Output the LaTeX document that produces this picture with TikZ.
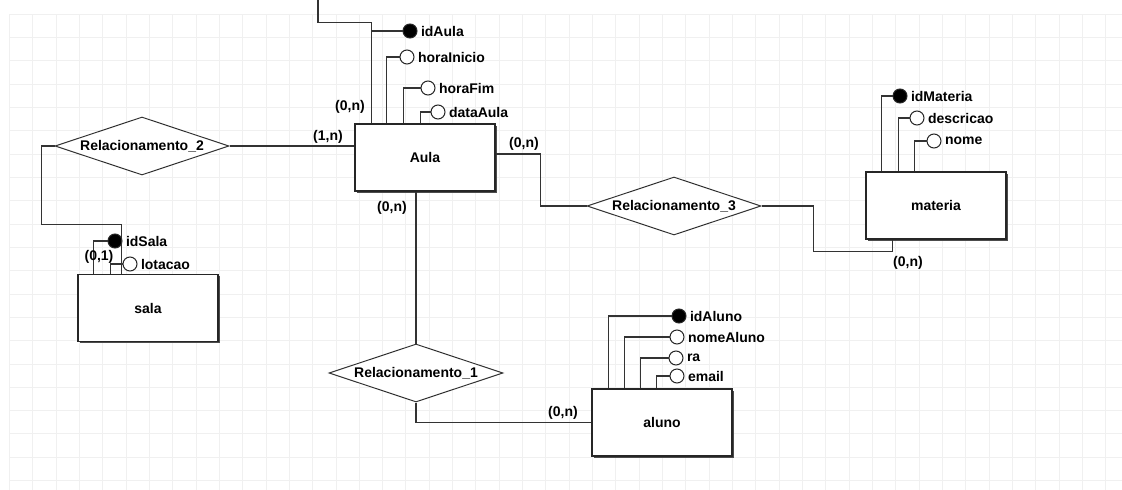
\documentclass[tikz,border=0pt]{standalone}
\usepackage{fontspec}
\setmainfont{Liberation Sans}
\usetikzlibrary{positioning,shapes.geometric,shadows}
\begin{document}
\begin{tikzpicture}[x=1pt, y=-1pt,
    every node/.style={font=\fontsize{14}{16}\selectfont\bfseries},
    ent/.style={draw=black!85, line width=1.2pt, fill=white, minimum width=140pt, minimum height=67pt,
        general shadow={fill=black!70, shadow xshift=1.6pt, shadow yshift=-1.6pt}},
    rel/.style={diamond, aspect=3, draw=black!80, line width=1pt, fill=white, inner sep=0pt,
        minimum width=174pt, minimum height=58pt},
    attr/.style={circle, draw=black!85, line width=1pt, fill=white, minimum size=14pt, inner sep=0pt},
    key/.style={attr, fill=black},
    card/.style={inner sep=0pt},
    conn/.style={draw=black!80, line width=1.1pt},
    gridline/.style={draw=black!6, line width=0.9pt}]
    \useasboundingbox (0,0) rectangle (1122,490);
    % grid
    \foreach \i in {0,...,47}
        \draw[gridline] (9.33+23.33*\i,14) -- (9.33+23.33*\i,490);
    \foreach \j in {0,...,20}
        \draw[gridline] (9.33,14+23.33*\j) -- (1122,14+23.33*\j);
    % entities
    \node[ent] (Aula) at (425,157.5) {Aula};
    \node[ent] (materia) at (936,205.5) {materia};
    \node[ent] (sala) at (148,308) {sala};
    \node[ent] (aluno) at (662,422.5) {aluno};
    % relationships
    \node[rel] (rel2) at (142,146) {Relacionamento\_2};
    \node[rel] (rel3) at (674,206) {Relacionamento\_3};
    \node[rel] (rel1) at (416,373) {Relacionamento\_1};
    % attributes
    \node[key, label=right:idAula] (idAula) at (410,31) {};
    \node[attr, label=right:horaInicio] (horaInicio) at (407,57) {};
    \node[attr, label=right:horaFim] (horaFim) at (428,88) {};
    \node[attr, label=right:dataAula] (dataAula) at (438,112) {};
    \node[key, label=right:idMateria] (idMateria) at (900,96) {};
    \node[attr, label=right:descricao] (descricao) at (917,118) {};
    \node[attr, label=right:nome] (nome) at (934,141) {};
    \node[key, label=right:idSala] (idSala) at (115,241) {};
    \node[attr, label=right:lotacao] (lotacao) at (130,264) {};
    \node[key, label=right:idAluno] (idAluno) at (679,316) {};
    \node[attr, label=right:nomeAluno] (nomeAluno) at (677,337) {};
    \node[attr, label=right:ra] (ra) at (676,358) {};
    \node[attr, label=right:email] (email) at (677,376) {};
    \coordinate (offtop) at (318,-2);
    % attribute lines
    \draw[conn] (idAula.west) -| ([xshift=17pt]Aula.north west);
    \draw[conn] (horaInicio.west) -| ([xshift=32pt]Aula.north west);
    \draw[conn] (horaFim.west) -| ([xshift=49pt]Aula.north west);
    \draw[conn] (dataAula.west) -| ([xshift=66pt]Aula.north west);
    \draw[conn] (idMateria.west) -| ([xshift=16pt]materia.north west);
    \draw[conn] (descricao.west) -| ([xshift=33pt]materia.north west);
    \draw[conn] (nome.west) -| ([xshift=49pt]materia.north west);
    \draw[conn] (idSala.west) -| ([xshift=16pt]sala.north west);
    \draw[conn] (lotacao.west) -| ([xshift=33pt]sala.north west);
    \draw[conn] (idAluno.west) -| ([xshift=17pt]aluno.north west);
    \draw[conn] (nomeAluno.west) -| ([xshift=33pt]aluno.north west);
    \draw[conn] (ra.west) -| ([xshift=49pt]aluno.north west);
    \draw[conn] (email.west) -| ([xshift=65pt]aluno.north west);
    % relationship lines
    \draw[conn] (offtop) -- ++(0,24.7) -| ([xshift=17pt]Aula.north west);
    \draw[conn] (rel2.east) -- (rel2.east -| Aula.west);
    \draw[conn] (rel2.west) -- ++(-13,0) |- ([xshift=44pt, yshift=49pt]sala.north west)
        -- ([xshift=44pt]sala.north west);
    \draw[conn] (rel3.west) -- ++(-46,0) |- ([yshift=3.5pt]Aula.east);
    \draw[conn] (rel3.east) -- ++(52,0) |- ([xshift=27pt, yshift=-12pt]materia.south west)
        -- ([xshift=27pt]materia.south west);
    \draw[conn] (rel1.north) -- (rel1.north |- Aula.south);
    \draw[conn] (rel1.south) |- (aluno.west);
    % cardinalities
    \node[card] (cTop) at (350,107) {(0,n)};
    \node[card] (cLeft) at (328,137) {(1,n)};
    \node[card] (cRight) at (524,144) {(0,n)};
    \node[card] (cBottom) at (392,208) {(0,n)};
    \node[card] (cMateria) at (908,263) {(0,n)};
    \node[card] (cSala) at (99,257) {(0,1)};
    \node[card] (cAluno) at (563,413) {(0,n)};
\end{tikzpicture}
\end{document}
